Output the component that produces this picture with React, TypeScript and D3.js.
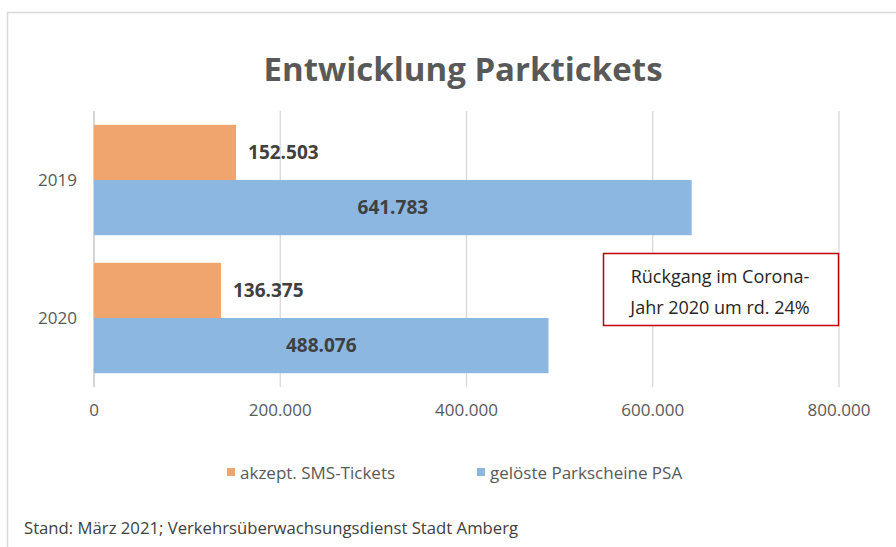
import React from "react";
import * as d3 from "d3";

const categories = ["2019", "2020"];
const seriesNames = ["akzept. SMS-Tickets", "gelöste Parkscheine PSA"];
const smsTickets = [152503, 136375];
const parkscheine = [641783, 488076];
const xTicks = [0, 200000, 400000, 600000, 800000];
const colors = ["#F0A46E", "#8BB7E0"];
const titleText = "Entwicklung Parktickets";
const noteLines = ["Rückgang im Corona-", "Jahr 2020 um rd. 24%"];
const footerText = "Stand: März 2021; Verkehrsüberwachsungsdienst Stadt Amberg";

const W = 896;
const H = 547;
const FONT = "'Open Sans', 'Noto Sans', sans-serif";
const fmt = (v: number) => d3.format(",")(v).replace(/,/g, ".");

export default function App() {
  const x = d3.scaleLinear().domain([0, 800000]).range([94, 839]);
  const y = d3.scaleBand().domain(categories).range([111, 387]).paddingInner(0.2).paddingOuter(0.1);
  const inner = d3.scaleBand().domain(["0", "1"]).range([0, y.bandwidth()]);
  const series = [smsTickets, parkscheine];

  return (
    <svg width={W} height={H} style={{ position: "absolute", left: 0, top: 0, background: "#fff" }} fontFamily={FONT}>
      <rect x={0} y={0} width={W} height={H} fill="#fff" />
      <line x1={7.5} y1={12} x2={7.5} y2={H} stroke="#d9d9d9" strokeWidth={1.5} />
      <line x1={7} y1={12.5} x2={W} y2={12.5} stroke="#d9d9d9" strokeWidth={1.5} />
      <text x={463} y={81} textAnchor="middle" fontSize={33} fontWeight="bold" fill="#595959">{titleText}</text>
      {xTicks.map((t) => (
        <g key={t}>
          <line x1={x(t)} x2={x(t)} y1={111} y2={387} stroke={t === 0 ? "#bfbfbf" : "#d9d9d9"} strokeWidth={1.3} />
          <text x={x(t)} y={416} textAnchor="middle" fontSize={17} fill="#595959">{fmt(t)}</text>
        </g>
      ))}
      {categories.map((c, ci) => (
        <g key={c}>
          <text x={77} y={(y(c) as number) + y.bandwidth() / 2 + 6} textAnchor="end" fontSize={17} fill="#595959">{c}</text>
          {series.map((s, si) => {
            const by = (y(c) as number) + (inner(String(si)) as number);
            const bh = inner.bandwidth();
            const bw = x(s[ci]) - x(0);
            return (
              <g key={si}>
                <rect x={x(0)} y={by} width={bw} height={bh} fill={colors[si]} />
                {si === 0 ? (
                  <text x={x(s[ci]) + 12} y={by + bh / 2 + 6.5} fontSize={19} fontWeight="bold" fill="#404040">{fmt(s[ci])}</text>
                ) : (
                  <text x={x(0) + bw / 2} y={by + bh / 2 + 6.5} textAnchor="middle" fontSize={19} fontWeight="bold" fill="#404040">{fmt(s[ci])}</text>
                )}
              </g>
            );
          })}
        </g>
      ))}
      <rect x={603.5} y={253.5} width={235} height={72} fill="#fff" stroke="#C00000" strokeWidth={1.5} />
      {noteLines.map((l, i) => (
        <text key={i} x={720} y={283 + i * 31} textAnchor="middle" fontSize={18} fill="#262626">{l}</text>
      ))}
      {seriesNames.map((n, i) => {
        const lx = i === 0 ? 227 : 477;
        return (
          <g key={n}>
            <rect x={lx} y={468} width={8} height={8} fill={colors[i]} />
            <text x={lx + 13} y={478.5} fontSize={17} fill="#595959">{n}</text>
          </g>
        );
      })}
      <text x={24} y={534} fontSize={16.7} fill="#404040">{footerText}</text>
    </svg>
  );
}
